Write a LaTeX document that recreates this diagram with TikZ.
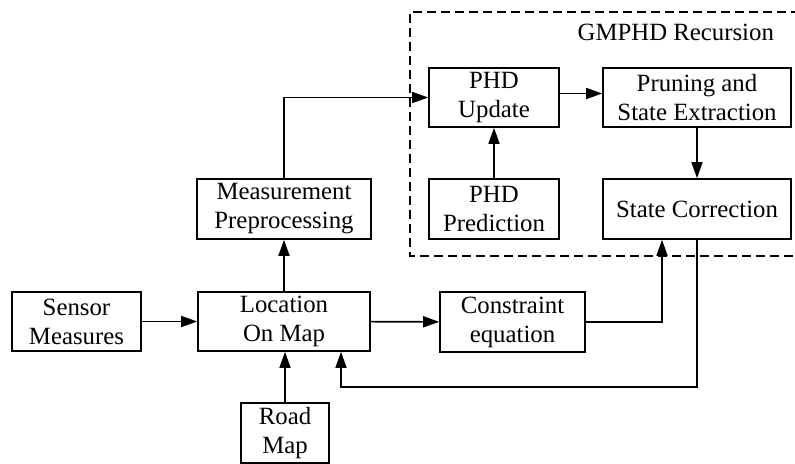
\documentclass[tikz,border=0pt]{standalone}
\usepackage{fontspec}
\setmainfont{Liberation Serif}
\usetikzlibrary{arrows.meta,positioning}

\begin{document}
\begin{tikzpicture}[
  x=0.5pt, y=-0.5pt,
  font=\fontsize{12.4}{14.5}\selectfont,
  block/.style={draw, line width=0.8pt, align=center, minimum height=29.5pt,
                inner sep=2pt},
  arr/.style={-{Triangle[length=8pt, width=5.5pt]}, line width=0.8pt},
  group/.style={draw, line width=0.7pt, dash pattern=on 4.5pt off 2.5pt}
]
\useasboundingbox (0,0) rectangle (795,464);

% recursion frame
\draw[group] (800,12) -- (410,12) -- (410,256) -- (800,256);
\node[anchor=east] (title) at (781,32) {GMPHD Recursion};

% blocks
\node[block, minimum width=64.5pt] (sensor) at (76.5,321.5) {Sensor\\Measures};
\node[block, minimum width=86pt] (loc) at (284,321.5) {Location\\On Map};
\node[block, minimum width=44pt, minimum height=30pt] (road) at (285,433) {Road\\Map};
\node[block, minimum width=87pt, minimum height=30pt] (meas) at (284,209) {Measurement\\Preprocessing};
\node[block, minimum width=72.5pt, minimum height=30pt] (constr) at (512.5,322) {Constraint\\equation};
\node[block, minimum width=65pt] (upd) at (494,97.5) {PHD\\Update};
\node[block, minimum width=65pt, minimum height=30pt] (pred) at (494,209) {PHD\\Prediction};
\node[block, minimum width=94pt] (prune) at (697,97.5) {Pruning and\\State Extraction};
\node[block, minimum width=94pt, minimum height=30pt] (corr) at (697,209) {State Correction};

% connections
\draw[arr] (sensor) -- (loc);
\draw[arr] (road) -- (road |- loc.south);
\draw[arr] (loc) -- (meas);
\draw[arr] (meas.north) |- (upd.west);
\draw[arr] (pred) -- (pred |- upd.south);
\draw[arr] ([yshift=2pt]upd.east) -- ([yshift=2pt]prune.west);
\draw[arr] (prune) -- (corr);
\draw[arr] (loc) -- (constr);
\draw[arr] (constr.east) -| ([xshift=-17.5pt]corr.south);
\draw[arr] (corr.south) |- (500,387) -| ([xshift=28.5pt]loc.south);
\end{tikzpicture}
\end{document}
